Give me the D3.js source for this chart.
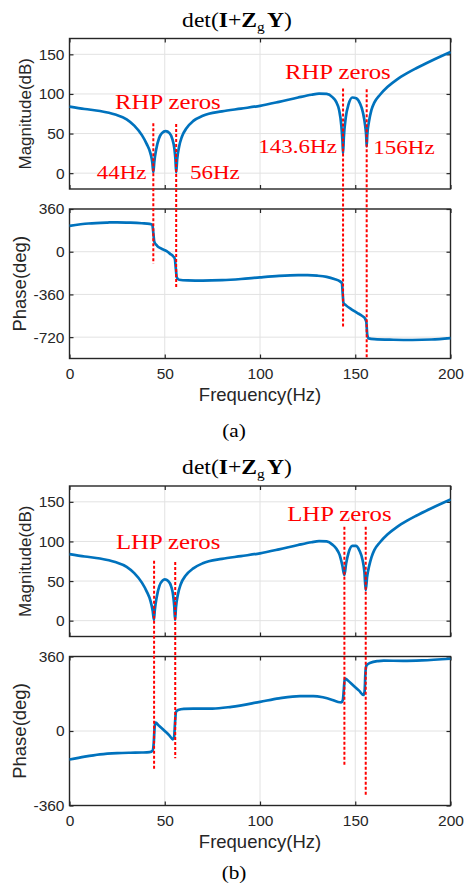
<!DOCTYPE html>
<html>
<head>
<meta charset="utf-8">
<style>
  body { margin: 0; background: #fff; }
  svg { display: block; }
</style>
</head>
<body>
<svg id="fig"></svg>
<script src="https://cdnjs.cloudflare.com/ajax/libs/d3/7.8.5/d3.min.js"></script>
<script>

// ---- data ----
var xTicks       = [0, 50, 100, 150, 200],
    magTicks     = [0, 50, 100, 150],
    phaseTicksA  = [-720, -360, 0, 360],
    phaseTicksB  = [-360, 0, 360];

// (a) magnitude, dB
var magA_f  = [0, 8, 16, 24, 30, 34, 38, 40.5, 42.5, 43.5, 44, 44.5, 45.5, 47, 48.5, 50.5, 52.5, 54, 55, 55.6, 56,
               56.5, 57.5, 59, 61.5, 65, 70, 80, 90, 100, 110, 120, 127, 131, 135, 138, 140, 141.5, 142.7, 143.3,
               143.6, 144, 145, 146.5, 148.5, 150.5, 152.5, 154, 155.2, 155.8, 156, 156.3, 157.2, 158.5, 160,
               163, 167, 172, 177, 182, 190, 200];
var magA_db = [84, 81, 78.5, 74, 68, 60, 48, 37, 25, 13, 1, 14, 30, 44, 50.5, 53, 50.5, 43, 32, 18, 1,
               17, 33, 46, 57, 66, 72.5, 78, 81.5, 85, 90, 95.5, 99, 100.5, 100, 96, 90, 80, 60, 40,
               25, 45, 70, 87, 95.5, 94.5, 88, 77, 60, 45, 34, 48, 65, 80, 89,
               99, 109, 118.5, 126, 132.5, 142, 153];

// (a) phase, deg
var phaseA_f   = [0, 10, 20, 25, 32, 38, 42, 43.5, 44, 44.5, 46, 48, 51, 53, 54.5, 55.3, 55.8, 56.3, 57.5, 62,
                  70, 80, 90, 100, 110, 120, 125, 130, 135, 139, 142, 143, 143.4, 143.8, 145, 148, 151, 153.5,
                  155, 155.8, 156.3, 157, 160, 170, 180, 190, 200];
var phaseA_deg = [218, 238, 246, 248, 245, 240, 235, 225, 160, 85, 50, 28, 5, -20, -40, -60, -140, -215, -236, -242,
                  -244, -240, -230, -216, -204, -198, -198, -202, -212, -230, -250, -265, -350, -430, -450, -485, -515, -540,
                  -560, -590, -700, -730, -737, -742, -744, -740, -728];

// (b) magnitude, dB
var magB_f  = [0, 8, 16, 24, 30, 34, 38, 40.5, 42.5, 43.7, 44.3, 44.8, 45.8, 47.2, 48.8, 50, 51.8, 53.4, 54.4, 55, 55.4,
               55.9, 56.9, 58.4, 61, 65, 70, 80, 90, 100, 110, 120, 127, 131, 135, 138, 140, 141.8, 143.2, 144.3,
               145.2, 146.5, 148.5, 150.3, 152.3, 153.8, 154.8, 155.5, 156.2, 157.2, 158.5, 160,
               163, 167, 172, 177, 182, 190, 200];
var magB_db = [84, 81, 78.5, 74, 68, 60, 48, 37, 25, 12, 1, 14, 30, 44, 50.5, 52, 50, 43, 32, 18, 1,
               17, 33, 46, 57, 66, 72.5, 78, 81.5, 85, 90, 95.5, 99, 100.5, 100, 96, 91, 83, 70, 57.5,
               72, 86, 94.5, 94.5, 88, 77, 62, 38.5, 55, 68, 80, 89,
               99, 109, 118.5, 126, 132.5, 142, 153];

// (b) phase, deg
var phaseB_f   = [0, 8, 16, 25, 32, 38, 42, 43.6, 44.2, 44.7, 45.2, 47, 50, 52.5, 54.2, 54.9, 55.4, 55.9, 57, 60,
                  65, 75, 85, 100, 110, 121, 128, 133, 138, 141, 142.6, 143.5, 144, 144.5, 146, 149, 152, 154.3,
                  154.9, 155.4, 156, 158, 162, 165, 175, 185, 200];
var phaseB_deg = [-138, -124, -113, -107, -105, -104, -102, -95, -60, 20, 40, 25, 0, -22, -40, -30, 40, 92, 101, 107,
                  108, 108, 117, 141, 158, 169, 169, 163, 150, 140, 138, 150, 200, 255, 245, 220, 195, 174,
                  190, 290, 318, 330, 338, 340, 339, 341, 349];

// dashed markers at the zeros: frequency, top (dB), bottom (deg)
var zerosA_f   = [44, 56, 143.6, 156],
    zerosA_top = [63, 62, 107, 106],
    zerosA_bot = [-100, -307, -644, -900];
var zerosB_f   = [44.4, 55.5, 144.3, 155.5],
    zerosB_top = [75.7, 74, 118.6, 118.6],
    zerosB_bot = [-189, -132, -173, -314];

// annotations: text, frequency, dB (text baseline)
var notesA_text = ["RHP zeros", "44Hz", "56Hz", "RHP zeros", "143.6Hz", "156Hz"],
    notesA_f    = [23.9, 14.3, 63.2, 113.1, 99.1, 159.5],
    notesA_db   = [81.6, -7.3, -7.3, 119.5, 25.8, 23.8],
    notesA_big  = [true, false, false, true, false, false];
var notesB_text = ["LHP zeros", "LHP zeros"],
    notesB_f    = [24.4, 114.3],
    notesB_db   = [90.1, 125.8],
    notesB_big  = [true, true];

// ---- layout ----
var width = 464, height = 885,
    left = 69.5, right = 450.5,
    sans = "'Liberation Sans', Arial, sans-serif",
    serif = "'Liberation Serif', 'Times New Roman', serif",
    axisColor = "#262626",
    gridColor = "#e2e2e2",
    lineColor = "#0072BD",
    redColor  = "#ff0000",
    stretch   = 1.18;   // serif text in the figure is horizontally stretched

var svg = d3.select("#fig").attr("width", width).attr("height", height);

var x = d3.scaleLinear().domain([0, 200]).range([left, right]);

function zip(a, b) { return a.map(function(d, i) { return [d, b[i]]; }); }

function panel(top, bottom, domain, yTicks, showX, ylabel, ylabelX, ylabelSize) {
  var y = d3.scaleLinear().domain(domain).range([bottom, top]);
  var g = svg.append("g");
  var plain = function(d) { return String(d); };   // keep ASCII hyphen minus like MATLAB

  // grid
  g.append("g").selectAll("line").data(xTicks).join("line")
    .attr("x1", d => x(d)).attr("x2", d => x(d))
    .attr("y1", top).attr("y2", bottom)
    .attr("stroke", gridColor).attr("stroke-width", 1);
  g.append("g").selectAll("line").data(yTicks).join("line")
    .attr("x1", left).attr("x2", right)
    .attr("y1", d => y(d)).attr("y2", d => y(d))
    .attr("stroke", gridColor).attr("stroke-width", 1);

  // axes with inward ticks on all four sides
  var ax = [
    d3.axisLeft(y).tickValues(yTicks).tickSize(-4).tickSizeOuter(0).tickPadding(5).tickFormat(plain),
    d3.axisRight(y).tickValues(yTicks).tickSize(-4).tickSizeOuter(0).tickFormat(""),
    d3.axisTop(x).tickValues(xTicks).tickSize(-4).tickSizeOuter(0).tickFormat(""),
    d3.axisBottom(x).tickValues(xTicks).tickSize(-4).tickSizeOuter(0).tickPadding(9.5).tickFormat(showX ? plain : "")
  ];
  var pos = ["translate(" + left + ",0)", "translate(" + right + ",0)",
             "translate(0," + top + ")", "translate(0," + bottom + ")"];
  var axes = g.append("g");
  ax.forEach(function(a, i) {
    var ga = axes.append("g").attr("transform", pos[i]).call(a);
    ga.select(".domain").remove();
    ga.selectAll("line").attr("stroke", axisColor).attr("stroke-width", 1.2);
    ga.selectAll("text").attr("fill", axisColor)
      .style("font-family", sans).style("font-size", "15.5px");
  });

  g.append("rect")
    .attr("x", left).attr("y", top)
    .attr("width", right - left).attr("height", bottom - top)
    .attr("fill", "none").attr("stroke", axisColor).attr("stroke-width", 1.4);

  g.append("text")
    .attr("transform", "translate(" + ylabelX + "," + ((top + bottom) / 2) + ") rotate(-90)")
    .attr("text-anchor", "middle")
    .attr("fill", axisColor)
    .style("font-family", sans).style("font-size", ylabelSize + "px")
    .text(ylabel);

  if (showX) {
    g.append("text")
      .attr("x", (left + right) / 2).attr("y", bottom + 42.5)
      .attr("text-anchor", "middle").attr("fill", axisColor)
      .style("font-family", sans).style("font-size", "18.5px")
      .text("Frequency(Hz)");
  }
  return y;
}

function curve(y, fs, vs) {
  var line = d3.line().x(d => x(d[0])).y(d => y(d[1])).curve(d3.curveMonotoneX);
  svg.append("path")
    .attr("d", line(zip(fs, vs)))
    .attr("fill", "none")
    .attr("stroke", lineColor)
    .attr("stroke-width", 2.7)
    .attr("stroke-linejoin", "round");
}

function title(cx, baseline) {
  var t = svg.append("text")
    .attr("transform", "translate(" + cx + "," + baseline + ") scale(" + stretch + ",1)")
    .attr("text-anchor", "middle")
    .attr("fill", "#000")
    .style("font-family", serif).style("font-size", "20px");
  t.append("tspan").text("det(");
  t.append("tspan").attr("font-weight", "bold").text("I");
  t.append("tspan").text("+");
  t.append("tspan").attr("font-weight", "bold").text("Z");
  t.append("tspan").attr("dy", 4).style("font-size", "13px").text("g");
  t.append("tspan").attr("dy", -4).attr("dx", 2).attr("font-weight", "bold").text("Y");
  t.append("tspan").text(")");
}

function notes(y, texts, fs, vs, big) {
  svg.append("g").selectAll("text").data(texts).join("text")
    .attr("transform", (d, i) => "translate(" + x(fs[i]) + "," + y(vs[i]) + ") scale(" + stretch + ",1)")
    .attr("fill", redColor)
    .style("font-family", serif)
    .style("font-size", (d, i) => big[i] ? "21px" : "19.5px")
    .text(d => d);
}

function markers(yTop, yBot, fs, tops, bots) {
  svg.append("g").selectAll("line").data(fs).join("line")
    .attr("x1", d => x(d)).attr("x2", d => x(d))
    .attr("y1", (d, i) => yTop(tops[i]))
    .attr("y2", (d, i) => yBot(bots[i]))
    .attr("stroke", redColor)
    .attr("stroke-width", 2)
    .attr("stroke-dasharray", "3,2");
}

// ---- figure (a) ----
var yMagA   = panel(38.5, 189, [-20, 170], magTicks, false, "Magnitude(dB)", 30.5, 17);
var yPhaseA = panel(209, 358.5, [-900, 360], phaseTicksA, true, "Phase(deg)", 25.5, 18.5);
curve(yMagA, magA_f, magA_db);
curve(yPhaseA, phaseA_f, phaseA_deg);
title(237, 27);
notes(yMagA, notesA_text, notesA_f, notesA_db, notesA_big);
markers(yMagA, yPhaseA, zerosA_f, zerosA_top, zerosA_bot);

svg.append("text")
  .attr("transform", "translate(234,436.5) scale(" + stretch + ",1)")
  .attr("text-anchor", "middle")
  .style("font-family", serif).style("font-size", "18px")
  .text("(a)");

// ---- figure (b) ----
var yMagB   = panel(486, 636.5, [-20, 170], magTicks, false, "Magnitude(dB)", 30.5, 17);
var yPhaseB = panel(656.5, 805.5, [-360, 360], phaseTicksB, true, "Phase(deg)", 25.5, 18.5);
curve(yMagB, magB_f, magB_db);
curve(yPhaseB, phaseB_f, phaseB_deg);
title(237, 473.5);
notes(yMagB, notesB_text, notesB_f, notesB_db, notesB_big);
markers(yMagB, yPhaseB, zerosB_f, zerosB_top, zerosB_bot);

svg.append("text")
  .attr("transform", "translate(234,879) scale(" + stretch + ",1)")
  .attr("text-anchor", "middle")
  .style("font-family", serif).style("font-size", "18px")
  .text("(b)");

</script>
</body>
</html>
